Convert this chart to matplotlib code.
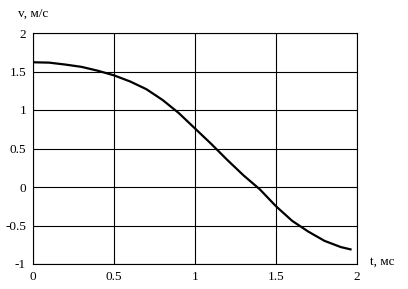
import matplotlib
matplotlib.use("Agg")
import matplotlib.pyplot as plt

# velocity vs time
t_ms = [0, 0.1, 0.2, 0.3, 0.4, 0.5, 0.6, 0.7, 0.8, 0.9, 1.0,
        1.1, 1.2, 1.3, 1.4, 1.5, 1.6, 1.7, 1.8, 1.9, 1.96]
v_ms = [1.62, 1.615, 1.59, 1.56, 1.51, 1.45, 1.37, 1.27, 1.13, 0.96, 0.76,
        0.56, 0.35, 0.15, -0.03, -0.25, -0.44, -0.58, -0.70, -0.78, -0.81]

x_ticks = [0, 0.5, 1, 1.5, 2]
x_labels = ["0", "0.5", "1", "1.5", "2"]
y_ticks = [-1, -0.5, 0, 0.5, 1, 1.5, 2]
y_labels = ["-1", "-0.5", "0", "0.5", "1", "1.5", "2"]

plt.rcParams['font.family'] = ['Liberation Serif', 'DejaVu Serif']
plt.rcParams['font.size'] = 9.5

fig = plt.figure(figsize=(4.08, 2.89), dpi=100)
ax = fig.add_axes([33 / 408, 1 - 264 / 289, (357 - 33) / 408, (264 - 33) / 289])

ax.plot(t_ms, v_ms, color='black', linewidth=1.6)

ax.set_xlim(0, 2)
ax.set_ylim(-1, 2)
ax.set_xticks(x_ticks)
ax.set_xticklabels(x_labels)
ax.set_yticks(y_ticks)
ax.set_yticklabels(y_labels)
ax.tick_params(length=0, pad=5)
ax.grid(True, color='black', linewidth=0.8)
for s in ax.spines.values():
    s.set_linewidth(0.8)
    s.set_color('black')

fig.text(18 / 408, 1 - 14 / 289, "v, м/с", ha='left', va='center')
fig.text(370 / 408, 1 - 262 / 289, "t, мс", ha='left', va='center')

fig.savefig("out.png", dpi=100)
